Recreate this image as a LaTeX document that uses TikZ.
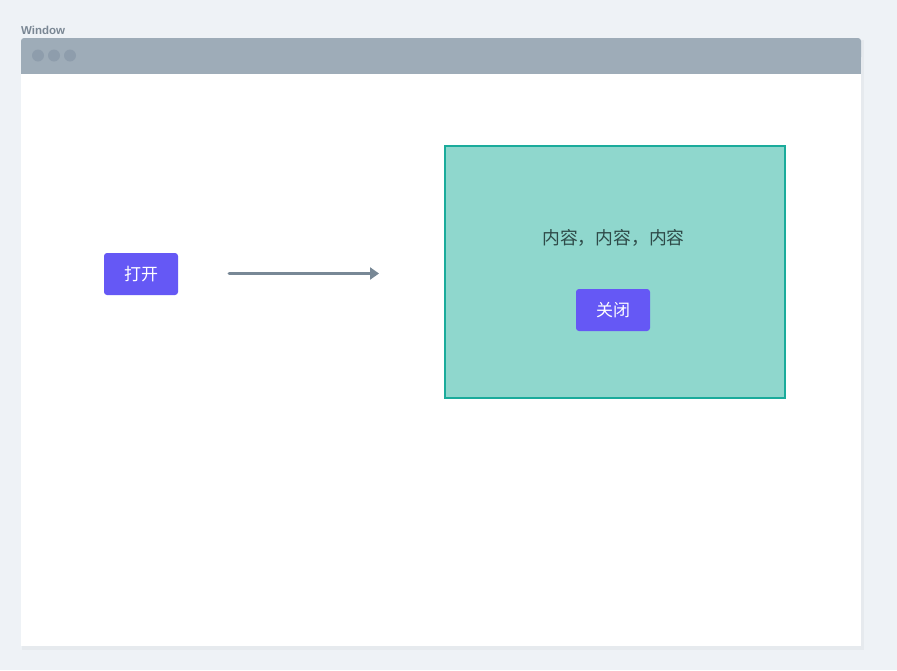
\documentclass[tikz,border=0pt]{standalone}
\usepackage{fontspec}
\setmainfont{Liberation Sans}
\newfontfamily\cjk{Noto Sans CJK SC}
\usetikzlibrary{arrows.meta}
\definecolor{pagebg}{HTML}{EEF2F6}
\definecolor{shadowc}{HTML}{E6EAEE}
\definecolor{barc}{HTML}{9EACB8}
\definecolor{dotc}{HTML}{8E9DAC}
\definecolor{titlec}{HTML}{7A8794}
\definecolor{btnc}{HTML}{6558F5}
\definecolor{arrowc}{HTML}{788896}
\definecolor{panelfill}{HTML}{8FD7CD}
\definecolor{panelline}{HTML}{1AAB9B}
\definecolor{textc}{HTML}{2E4A48}
\tikzset{
  x=1pt, y=-1pt,
  btn/.style={fill=btnc, rounded corners=3pt, minimum width=74pt, minimum height=42pt,
    inner sep=0pt, text=white, font=\cjk\fontsize{17}{20}\selectfont},
  dot/.style={fill=dotc, circle, minimum size=12pt, inner sep=0pt},
  flow/.style={draw=arrowc, line width=3pt, line cap=round,
    -{Triangle[length=9pt,width=12pt]}}
}
\begin{document}
\begin{tikzpicture}
  \useasboundingbox (0,0) rectangle (897,670);
  \fill[pagebg] (0,0) rectangle (897,670);
  % window frame with soft shadow
  \fill[shadowc] (22,40) rectangle (864,650);
  \fill[white] (21,74) rectangle (861,646);
  \fill[barc, rounded corners=3pt] (21,38) rectangle (861,60);
  \fill[barc] (21,55) rectangle (861,74);
  \node[anchor=west, text=titlec, font=\bfseries\fontsize{11.5}{12}\selectfont, inner sep=0pt] (title) at (21,30) {Window};
  \node[dot] (d1) at (38,55.5) {};
  \node[dot] (d2) at (54,55.5) {};
  \node[dot] (d3) at (70,55.5) {};
  % content
  \node[btn] (open) at (141,274) {打开};
  \node[draw=panelline, fill=panelfill, line width=2pt, minimum width=340pt, minimum height=252pt, inner sep=0pt] (panel) at (615,272) {};
  \node[text=textc, font=\cjk\fontsize{17.8}{20}\selectfont, inner sep=0pt] (body) at (613.5,238) {内容，内容，内容};
  \node[btn] (close) at (613,310) {关闭};
  \coordinate (arrowstart) at (229,273.5);
  \coordinate (arrowend) at (379,273.5);
  \draw[flow] (arrowstart) -- (arrowend);
\end{tikzpicture}
\end{document}
